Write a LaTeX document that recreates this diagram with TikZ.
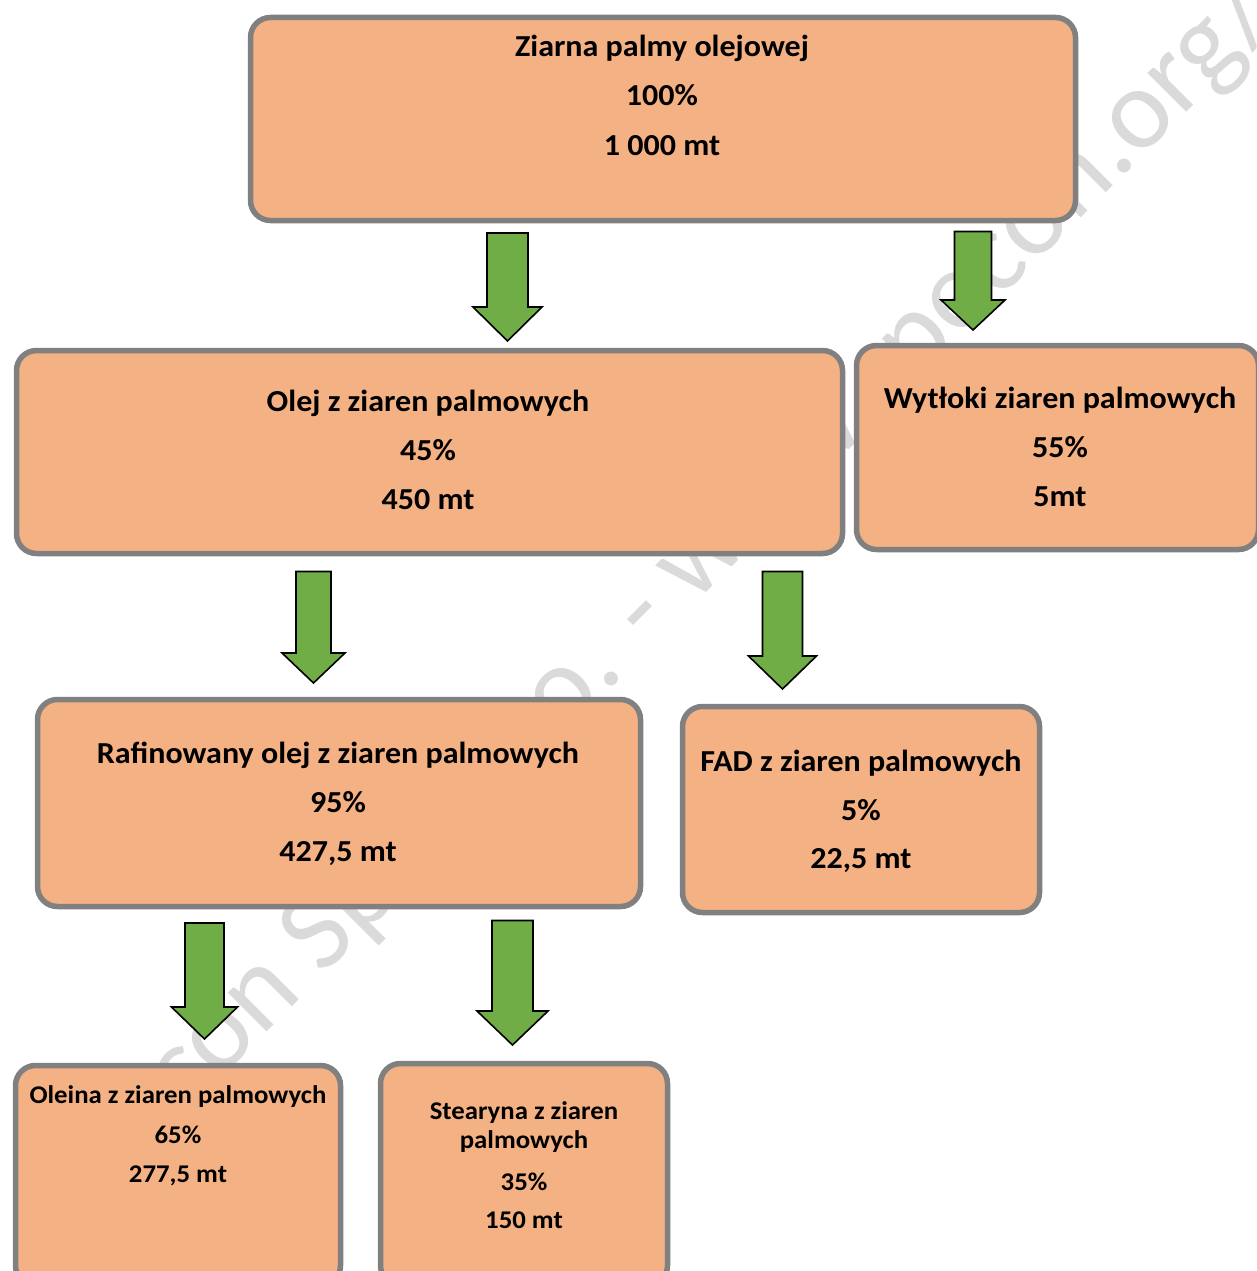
\documentclass[tikz,border=0pt]{standalone}
\usepackage{fontspec}
\setmainfont{Carlito}
\newfontfamily\boxfont{Carlito}[FakeStretch=1.05]
\definecolor{boxfill}{RGB}{244,177,131}
\definecolor{boxline}{RGB}{128,128,128}
\definecolor{arrfill}{RGB}{112,173,71}
\definecolor{wmgray}{RGB}{218,218,218}
\tikzset{
  box/.style={draw=boxline, fill=boxfill, line width=5.5pt, rounded corners=20pt, inner sep=0pt},
  bigtxt/.style={anchor=base, inner sep=0pt, font=\boxfont\fontsize{30.5}{36}\selectfont\bfseries},
  smalltxt/.style={anchor=base, inner sep=0pt, font=\boxfont\fontsize{25.5}{30}\selectfont\bfseries},
  garrow/.style={draw=black, fill=arrfill, line width=1.6pt, line join=miter},
  wm/.style={text=wmgray, inner sep=0pt, rotate=45, font=\fontsize{115}{130}\selectfont}
}
\newcommand\greenarrow[6]{%
  \draw[garrow] ({#1-#5},#2) -- ({#1+#5},#2) -- ({#1+#5},#3) -- ({#1+#6},#3) -- (#1,#4) -- ({#1-#6},#3) -- ({#1-#5},#3) -- cycle;}
\begin{document}
\begin{tikzpicture}[x=1pt,y=-1pt]
\useasboundingbox[fill=white] (0,0) rectangle (1256,1271);
% watermark
\coordinate (wmjoin) at (605,694);
\node[wm, anchor=base east] (wmA) at (wmjoin) {Specon Sp. z o.o};
\node[wm, anchor=base west] (wmB) at (wmjoin) {. - www.specon.org/};
% boxes
\node[box, minimum width=825pt, minimum height=203pt] (b1) at (663,119) {};
\node[box, minimum width=826pt, minimum height=203pt] (b2) at (429.5,452) {};
\node[box, minimum width=402pt, minimum height=204pt] (b3) at (1057.5,447.5) {};
\node[box, minimum width=603pt, minimum height=207pt] (b4) at (339,803) {};
\node[box, minimum width=357pt, minimum height=206pt] (b5) at (861,809.5) {};
\node[box, minimum width=325pt, minimum height=220pt] (b6) at (178,1175.5) {};
\node[box, minimum width=287pt, minimum height=222pt] (b7) at (524,1174.5) {};
% texts
\node[bigtxt] (t1a) at (662,56.5) {Ziarna palmy olejowej};
\node[bigtxt] (t1b) at (662,106) {100\%};
\node[bigtxt] (t1c) at (662,155.5) {1 000 mt};
\node[bigtxt] (t2a) at (428,411) {Olej z ziaren palmowych};
\node[bigtxt] (t2b) at (428,460) {45\%};
\node[bigtxt] (t2c) at (428,509) {450 mt};
\node[bigtxt] (t3a) at (1060,408) {Wytłoki ziaren palmowych};
\node[bigtxt] (t3b) at (1060,457) {55\%};
\node[bigtxt] (t3c) at (1060,506) {5mt};
\node[bigtxt] (t4a) at (338,763) {Rafinowany olej z ziaren palmowych};
\node[bigtxt] (t4b) at (338,812) {95\%};
\node[bigtxt] (t4c) at (338,861) {427,5 mt};
\node[bigtxt] (t5a) at (861,771) {FAD z ziaren palmowych};
\node[bigtxt] (t5b) at (861,820) {5\%};
\node[bigtxt] (t5c) at (861,868) {22,5 mt};
\node[smalltxt] (t6a) at (178,1103.5) {Oleina z ziaren palmowych};
\node[smalltxt] (t6b) at (178,1143.5) {65\%};
\node[smalltxt] (t6c) at (178,1182.5) {277,5 mt};
\node[smalltxt] (t7a) at (524,1119.5) {Stearyna z ziaren};
\node[smalltxt] (t7b) at (524,1148.5) {palmowych};
\node[smalltxt] (t7c) at (524,1190) {35\%};
\node[smalltxt] (t7d) at (524,1228.5) {150 mt};
% arrows
\greenarrow{507.5}{233}{307}{341}{20.5}{34.5}
\greenarrow{973}{231.5}{300}{330}{18.5}{32}
\greenarrow{313.5}{571.5}{653}{683}{17.5}{31.5}
\greenarrow{782.5}{571.5}{656}{689}{20}{34}
\greenarrow{204.5}{923}{1007}{1039}{19.5}{33}
\greenarrow{512.5}{920.5}{1011}{1045}{20.5}{35.5}
\end{tikzpicture}
\end{document}
